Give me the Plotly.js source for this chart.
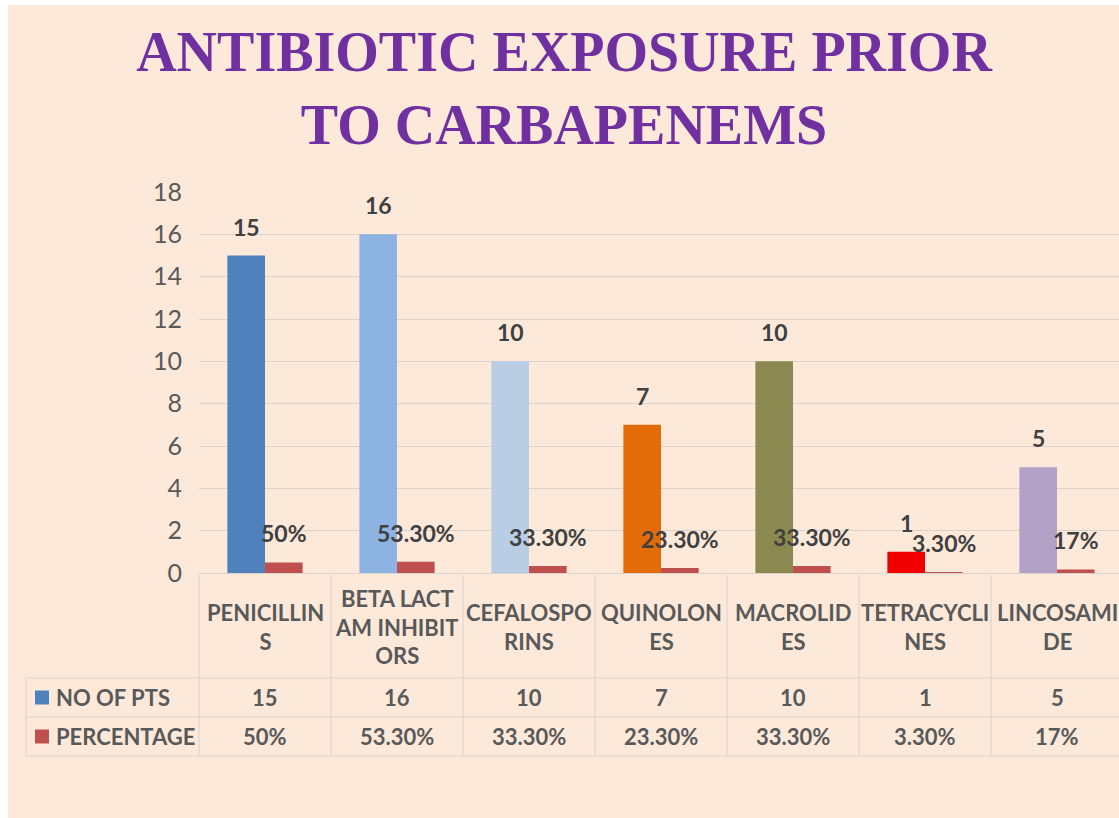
<!DOCTYPE html>
<html>
<head>
<meta charset="utf-8">
<script src="https://cdn.plot.ly/plotly-3.0.1.min.js"></script>
<style>
  html, body { margin: 0; padding: 0; background: #ffffff; overflow: hidden; width: 1119px; height: 818px; }
  #chart { position: absolute; left: 8px; top: 5px; width: 1125px; height: 813px; }
</style>
</head>
<body>
<div id="chart"></div>
<script>
// ---------- data ----------
const categories = ['PENICILLINS', 'BETA LACTAM INHIBITORS', 'CEFALOSPORINS', 'QUINOLONES', 'MACROLIDES', 'TETRACYCLINES', 'LINCOSAMIDE'];
const headerLabels = ['PENICILLIN<br>S', 'BETA LACT<br>AM INHIBIT<br>ORS', 'CEFALOSPO<br>RINS', 'QUINOLON<br>ES', 'MACROLID<br>ES', 'TETRACYCLI<br>NES', 'LINCOSAMI<br>DE'];
const noOfPts = [15, 16, 10, 7, 10, 1, 5];
const percentage = [0.50, 0.533, 0.333, 0.233, 0.333, 0.033, 0.17];
const percentageLabels = ['50%', '53.30%', '33.30%', '23.30%', '33.30%', '3.30%', '17%'];
const seriesNames = ['NO OF PTS', 'PERCENTAGE'];
const yTickVals = [0, 2, 4, 6, 8, 10, 12, 14, 16, 18];

// ---------- styles ----------
const barColors = ['#4F81BD', '#8DB3E2', '#B9CDE5', '#E36C09', '#8B8850', '#F00000', '#B3A2C7'];
const pctColor = '#C0504D';
const legendColors = ['#4F81BD', '#C0504D'];
const bg = '#FDE9DA';
const lineCol = '#DCD2CA';
const textCol = '#595959';
const labelCol = '#404040';

// plot-area geometry in div pixels
const L = 191, W = 924, T = 187, H = 381;
const DIVW = 1125, DIVH = 813;
const px = x => (x - L) / W;
const py = y => (T + H - y) / H;

const traces = [
  { type: 'bar', name: seriesNames[0], x: categories, y: noOfPts,
    marker: { color: barColors }, hoverinfo: 'x+y' },
  { type: 'bar', name: seriesNames[1], x: categories, y: percentage,
    marker: { color: pctColor }, hoverinfo: 'x+y' }
];

const annotations = [];
const shapes = [];
const tableFont = { family: 'Lato, sans-serif', size: 22, color: textCol, weight: 'bold' };
const labelFont = { family: 'Lato, sans-serif', size: 23, color: labelCol, weight: 'bold' };

// data labels above bars
categories.forEach((c, i) => {
  annotations.push({ x: c, y: noOfPts[i], xref: 'x', yref: 'y', text: String(noOfPts[i]),
    showarrow: false, xshift: -19, yshift: 29, yanchor: 'middle', font: labelFont });
  annotations.push({ x: c, y: percentage[i], xref: 'x', yref: 'y', text: percentageLabels[i],
    showarrow: false, xshift: 19, yshift: 29, yanchor: 'middle', font: labelFont });
});

// data table rows (div y coordinates)
const headerY = 622, row1Y = 692.5, row2Y = 731.5;
const lineTop = 570, line1 = 673, line2 = 712, line3 = 751;
categories.forEach((c, i) => {
  annotations.push({ x: c, y: py(headerY), xref: 'x', yref: 'paper', text: headerLabels[i],
    showarrow: false, yanchor: 'middle', align: 'center', font: tableFont });
  annotations.push({ x: c, y: py(row1Y), xref: 'x', yref: 'paper', text: String(noOfPts[i]),
    showarrow: false, yanchor: 'middle', font: tableFont });
  annotations.push({ x: c, y: py(row2Y), xref: 'x', yref: 'paper', text: percentageLabels[i],
    showarrow: false, yanchor: 'middle', font: tableFont });
});

// legend keys inside the table
[row1Y, row2Y].forEach((ry, k) => {
  shapes.push({ type: 'rect', xref: 'paper', yref: 'paper', x0: px(27), x1: px(41),
    y0: py(ry + 7), y1: py(ry - 7), fillcolor: legendColors[k], line: { width: 0 } });
  annotations.push({ x: px(46), y: py(ry), xref: 'paper', yref: 'paper', text: seriesNames[k],
    showarrow: false, xanchor: 'left', yanchor: 'middle', font: tableFont });
});

// table grid lines
for (let k = 0; k <= categories.length; k++) {
  const xv = L + k * (W / categories.length);
  shapes.push({ type: 'line', xref: 'paper', yref: 'paper', x0: px(xv), x1: px(xv),
    y0: py(lineTop), y1: py(line3), line: { color: lineCol, width: 1 } });
}
[line1, line2, line3].forEach(ly => {
  shapes.push({ type: 'line', xref: 'paper', yref: 'paper', x0: px(18), x1: 1,
    y0: py(ly), y1: py(ly), line: { color: lineCol, width: 1 } });
});
shapes.push({ type: 'line', xref: 'paper', yref: 'paper', x0: px(18), x1: px(18),
  y0: py(line1), y1: py(line3), line: { color: lineCol, width: 1 } });

const layout = {
  width: DIVW, height: DIVH,
  paper_bgcolor: bg, plot_bgcolor: bg,
  margin: { l: L, r: DIVW - L - W, t: T, b: DIVH - T - H, pad: 0 },
  title: {
    text: 'ANTIBIOTIC EXPOSURE PRIOR<br>TO CARBAPENEMS',
    font: { family: 'Liberation Serif, Times New Roman, serif', size: 56, color: '#7030A0', weight: 'bold' },
    x: 556 / DIVW, xref: 'container', xanchor: 'center',
    y: 1 - 66 / DIVH, yref: 'container', yanchor: 'top'
  },
  showlegend: false,
  barmode: 'group', bargap: 0.43, bargroupgap: 0,
  xaxis: { type: 'category', showticklabels: false, ticks: '', showgrid: false,
    showline: true, linecolor: lineCol, linewidth: 1, zeroline: false, fixedrange: true },
  yaxis: { range: [0, 18], tickvals: yTickVals, showgrid: true, gridcolor: lineCol, gridwidth: 1,
    zeroline: false, showline: false, ticks: '', ticklabelstandoff: 16,
    tickfont: { family: 'Lato, sans-serif', size: 25, color: textCol }, fixedrange: true },
  annotations: annotations,
  shapes: shapes
};

Plotly.newPlot('chart', traces, layout, { displayModeBar: false, staticPlot: false });
</script>
</body>
</html>
